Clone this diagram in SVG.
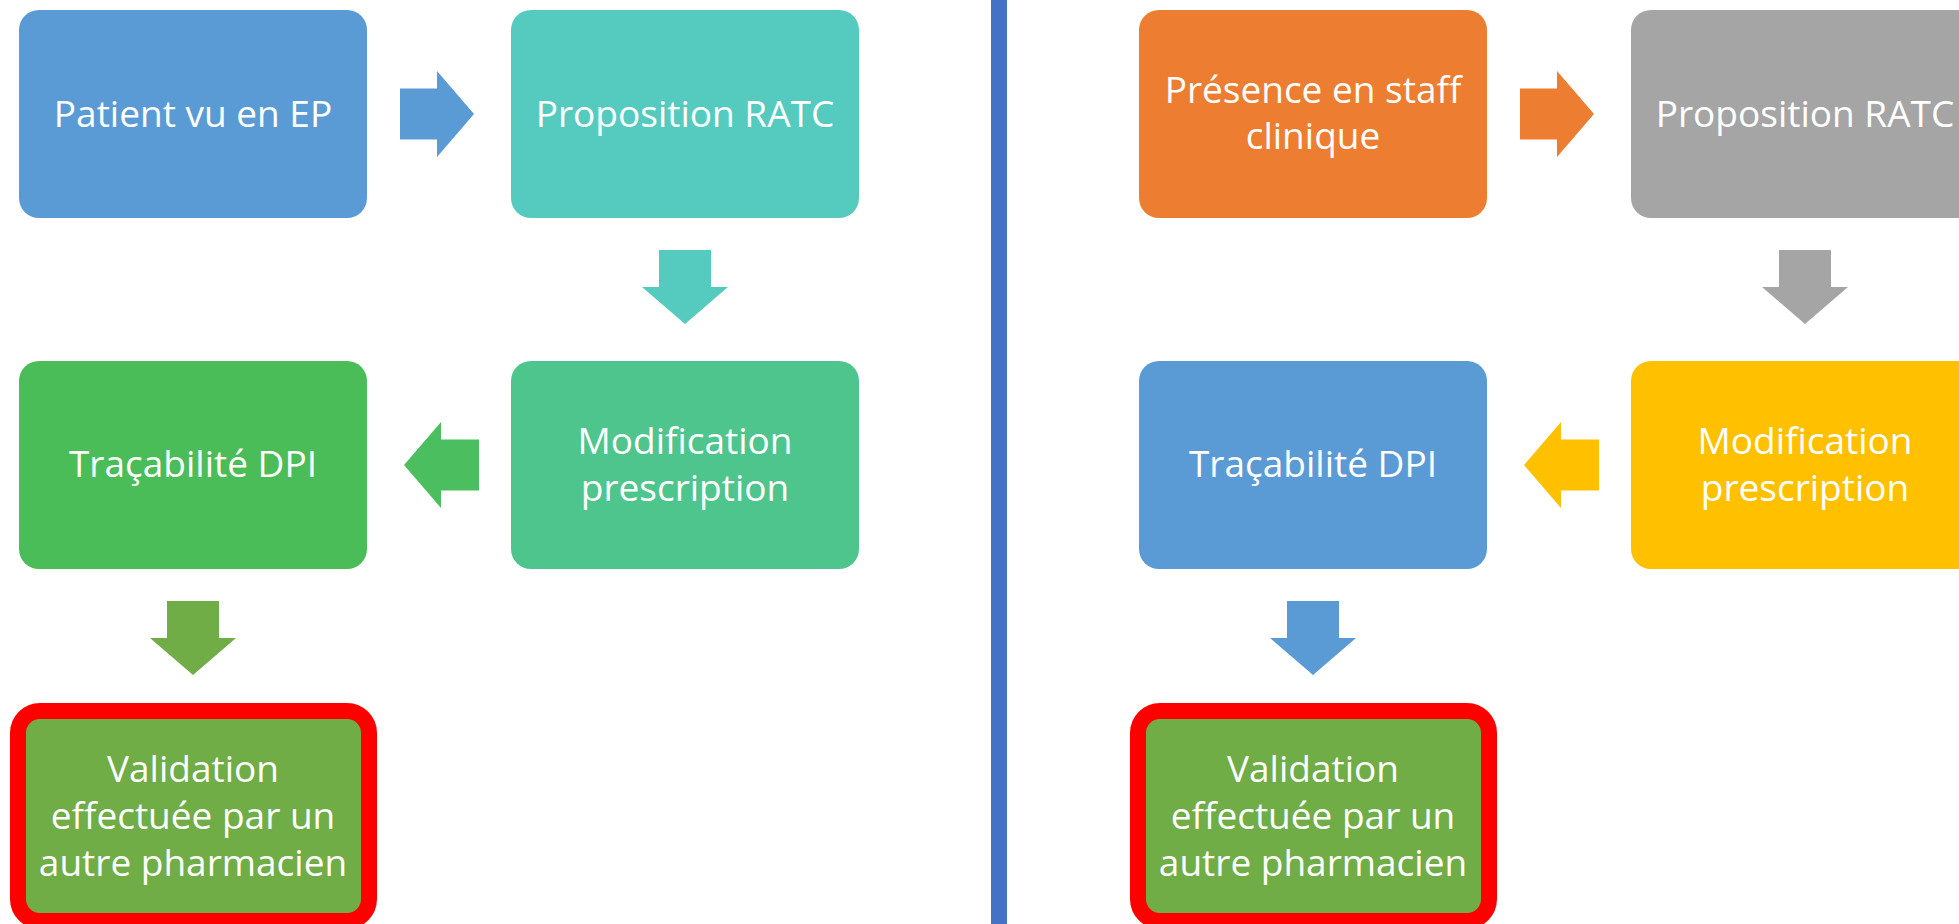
<svg xmlns="http://www.w3.org/2000/svg" width="1959" height="924" viewBox="0 0 1959 924">
<style>
.box{stroke:none}
.lbl{font-family:"Open Sans","Noto Sans","Liberation Sans",sans-serif;font-size:37px;fill:#FFFFFF;text-anchor:middle}
.hl{stroke:#FF0000;stroke-width:16}
</style>
<defs>
<path id="arR" d="M0,17.5 H37 V0 L74,43 L37,86 V68.5 H0 Z"/>
<path id="arL" d="M75,17.5 H37 V0 L0,43 L37,86 V68.5 H75 Z"/>
<path id="arD" d="M17,0 H69 V37 H86 L43,74 L0,37 H17 Z"/>
</defs>
<rect width="1959" height="924" fill="#FFFFFF"/>
<rect id="divider" x="991" y="0" width="16" height="924" fill="#4472C4"/>

<g id="connectors">
<use href="#arR" x="400" y="71" fill="#5B9BD5"/>
<use href="#arD" x="642" y="250" fill="#55CBC0"/>
<use href="#arL" x="404" y="422" fill="#4BBE5F"/>
<use href="#arD" x="150" y="601" fill="#70AD47"/>
<use href="#arR" x="1520" y="71" fill="#ED7D31"/>
<use href="#arD" x="1762" y="250" fill="#A5A5A5"/>
<use href="#arL" x="1524" y="422" fill="#FFC000"/>
<use href="#arD" x="1270" y="601" fill="#5B9BD5"/>
</g>

<g id="l-patient">
<rect class="box" x="19" y="10" width="348" height="208" rx="20" fill="#5B9BD5"/>
<text class="lbl" x="193" y="126.5">Patient vu en EP</text>
</g>
<g id="l-proposition">
<rect class="box" x="511" y="10" width="348" height="208" rx="20" fill="#55CBC0"/>
<text class="lbl" x="685" y="126.5">Proposition RATC</text>
</g>
<g id="l-modification">
<rect class="box" x="511" y="361" width="348" height="208" rx="20" fill="#4FC58E"/>
<text class="lbl" x="685" y="453.5">Modification</text>
<text class="lbl" x="685" y="500.5">prescription</text>
</g>
<g id="l-tracabilite">
<rect class="box" x="19" y="361" width="348" height="208" rx="20" fill="#4ABD58"/>
<text class="lbl" x="193" y="477">Traçabilité DPI</text>
</g>
<g id="l-validation">
<rect class="hl" x="18" y="711" width="351" height="210" rx="22" fill="#70AD47"/>
<text class="lbl" x="193" y="781.5">Validation</text>
<text class="lbl" x="193" y="828.5">effectuée par un</text>
<text class="lbl" x="193" y="875.5">autre pharmacien</text>
</g>

<g id="r-presence">
<rect class="box" x="1139" y="10" width="348" height="208" rx="20" fill="#ED7D31"/>
<text class="lbl" x="1313" y="103">Présence en staff</text>
<text class="lbl" x="1313" y="149">clinique</text>
</g>
<g id="r-proposition">
<rect class="box" x="1631" y="10" width="348" height="208" rx="20" fill="#A5A5A5"/>
<text class="lbl" x="1805" y="126.5">Proposition RATC</text>
</g>
<g id="r-modification">
<rect class="box" x="1631" y="361" width="348" height="208" rx="20" fill="#FFC000"/>
<text class="lbl" x="1805" y="453.5">Modification</text>
<text class="lbl" x="1805" y="500.5">prescription</text>
</g>
<g id="r-tracabilite">
<rect class="box" x="1139" y="361" width="348" height="208" rx="20" fill="#5B9BD5"/>
<text class="lbl" x="1313" y="477">Traçabilité DPI</text>
</g>
<g id="r-validation">
<rect class="hl" x="1138" y="711" width="351" height="210" rx="22" fill="#70AD47"/>
<text class="lbl" x="1313" y="781.5">Validation</text>
<text class="lbl" x="1313" y="828.5">effectuée par un</text>
<text class="lbl" x="1313" y="875.5">autre pharmacien</text>
</g>
</svg>
